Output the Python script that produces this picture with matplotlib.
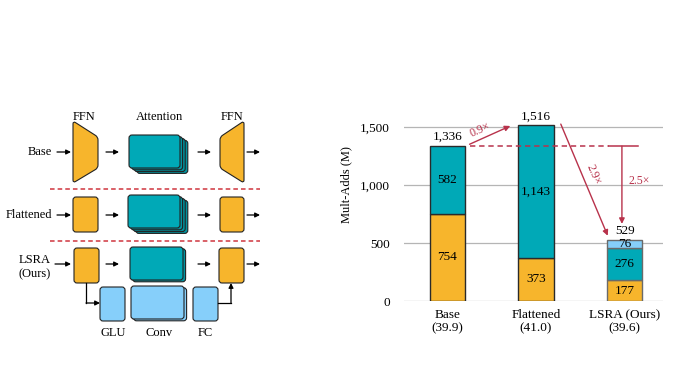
import matplotlib.pyplot as plt
import numpy as np
from matplotlib.patches import FancyBboxPatch, PathPatch
from matplotlib.path import Path

plt.rcParams['font.family'] = ['Liberation Serif', 'DejaVu Serif']

# chart data
models = ['Base\n(39.9)', 'Flattened\n(41.0)', 'LSRA (Ours)\n(39.6)']
ffn = [754, 373, 177]
attn = [582, 1143, 276]
branch = [0, 0, 76]
totals = [1336, 1516, 529]
yticks = [0, 500, 1000, 1500]

ORANGE = '#F7B52C'
TEAL = '#00A9B7'
TEAL_DARK = '#00939F'
LBLUE = '#86CFFA'
RED = '#B8324B'
DIV = '#D0353F'

fig = plt.figure(figsize=(6.73, 3.79), dpi=100)

# ---------- left: block diagram (pixel coordinates) ----------
dg = fig.add_axes([0, 0, 1, 1])
dg.set_xlim(0, 673)
dg.set_ylim(379, 0)
dg.axis('off')


def box(x0, y0, x1, y1, fc, r=3.0, z=2):
    dg.add_patch(FancyBboxPatch((x0, y0), x1 - x0, y1 - y0,
                                boxstyle=f'round,pad=0,rounding_size={r}',
                                fc=fc, ec='#222222', lw=0.8, zorder=z))


def stack(x0, y0, x1, y1, fc, n, dx=2.6, dy=1.8):
    for i in range(n, 0, -1):
        box(x0 + i * dx, y0 + i * dy, x1 + i * dx, y1 + i * dy,
            TEAL_DARK if fc == TEAL else fc, z=2)
    box(x0, y0, x1, y1, fc, z=3)


def arrow(x0, y0, x1, y1):
    dg.annotate('', xy=(x1, y1), xytext=(x0, y0),
                arrowprops=dict(arrowstyle='-|>', color='k', lw=0.9,
                                mutation_scale=7, shrinkA=0, shrinkB=0))


def round_poly(pts, r=3.0):
    pts = np.asarray(pts, float)
    n = len(pts)
    verts, codes = [], []
    for i in range(n):
        p = pts[i]
        a = pts[i - 1]
        b = pts[(i + 1) % n]
        pa = p + (a - p) / np.linalg.norm(a - p) * r
        pb = p + (b - p) / np.linalg.norm(b - p) * r
        verts += [pa, p, pb]
        codes += [Path.MOVETO if i == 0 else Path.LINETO, Path.CURVE3, Path.CURVE3]
    verts.append(verts[0])
    codes.append(Path.CLOSEPOLY)
    return Path(verts, codes)


def trap(xl, xr, wide_left):
    if wide_left:
        pts = [(xl, 121), (xr, 137), (xr, 168), (xl, 183)]
    else:
        pts = [(xl, 137), (xr, 121), (xr, 183), (xl, 168)]
    dg.add_patch(PathPatch(round_poly(pts), fc=ORANGE, ec='#222222', lw=0.8, zorder=2))


fs = 9
dg.text(84, 117, 'FFN', ha='center', va='center', fontsize=fs)
dg.text(159, 117, 'Attention', ha='center', va='center', fontsize=fs)
dg.text(232, 117, 'FFN', ha='center', va='center', fontsize=fs)

# Base row
yc = 152
dg.text(52, yc, 'Base', ha='right', va='center', fontsize=fs)
arrow(57, yc, 71, yc)
trap(73, 98, True)
arrow(106, yc, 119, yc)
stack(129, 135, 180, 168, TEAL, 3)
arrow(198, yc, 211, yc)
trap(220, 244, False)
arrow(247, yc, 260, yc)

dg.plot([50, 260], [189, 189], ls=(0, (3, 2)), color=DIV, lw=1.1)

# Flattened row
yc = 215
dg.text(52, yc, 'Flattened', ha='right', va='center', fontsize=fs)
arrow(57, yc, 71, yc)
box(73, 197, 98, 232, ORANGE)
arrow(106, yc, 119, yc)
stack(128, 195, 180, 228, TEAL, 3)
arrow(198, yc, 211, yc)
box(220, 197, 244, 232, ORANGE)
arrow(247, yc, 260, yc)

dg.plot([50, 260], [241, 241], ls=(0, (3, 2)), color=DIV, lw=1.1)

# LSRA row
yc = 264
dg.text(35, 267, 'LSRA\n(Ours)', ha='center', va='center', fontsize=fs, linespacing=1.25)
arrow(55, yc, 71, yc)
box(74, 248, 99, 283, ORANGE)
arrow(106, yc, 119, yc)
stack(130, 247, 183, 280, TEAL, 1)
arrow(198, yc, 211, yc)
box(219, 248, 244, 283, ORANGE)
arrow(247, yc, 260, yc)

box(100, 287, 125, 321, LBLUE)
stack(131, 286, 184, 319, LBLUE, 1)
box(193, 287, 218, 321, LBLUE)
dg.plot([86, 86], [283, 303], color='k', lw=0.9)
arrow(86, 303, 100, 303)
dg.plot([218, 231], [303, 303], color='k', lw=0.9)
arrow(231, 303, 231, 283)
dg.text(113, 333, 'GLU', ha='center', va='center', fontsize=fs)
dg.text(159, 333, 'Conv', ha='center', va='center', fontsize=fs)
dg.text(205, 333, 'FC', ha='center', va='center', fontsize=fs)

# ---------- right: stacked bars ----------
ax = fig.add_axes([0.6003, 0.2058, 0.385, 0.52])
x = np.arange(len(models))
w = 0.4
edges = ['#2a2a2a', '#2a2a2a', '#6a6a6a']
ax.bar(x, ffn, w, color=ORANGE, edgecolor=edges, lw=1, zorder=3)
ax.bar(x, attn, w, bottom=ffn, color=TEAL, edgecolor=edges, lw=1, zorder=3)
b2 = np.array(ffn) + np.array(attn)
ax.bar(x[2], branch[2], w, bottom=b2[2], color=LBLUE, edgecolor=edges[2], lw=1, zorder=3)

vf = 9.5
for i in range(3):
    ax.text(x[i], ffn[i] / 2, f'{ffn[i]:,}', ha='center', va='center', fontsize=vf, zorder=4)
    ax.text(x[i], ffn[i] + attn[i] / 2, f'{attn[i]:,}', ha='center', va='center', fontsize=vf, zorder=4)
    ax.text(x[i], totals[i] + 25, f'{totals[i]:,}', ha='center', va='bottom', fontsize=vf, zorder=4)
ax.text(x[2], b2[2] + branch[2] / 2, f'{branch[2]}', ha='center', va='center', fontsize=vf, zorder=4)

ax.set_xlim(-0.49, 2.435)
ax.set_ylim(0, 1700)
ax.set_yticks(yticks)
ax.set_yticklabels([f'{v:,}' for v in yticks])
ax.set_xticks(x)
ax.set_xticklabels(models, linespacing=1.1)
ax.tick_params(length=0, labelsize=9.5)
ax.tick_params(axis='x', pad=6)
ax.tick_params(axis='y', pad=10)
ax.grid(axis='y', color='#B5B5B5', lw=0.9, zorder=0)
for s in ax.spines.values():
    s.set_visible(False)
ax.set_ylabel('Mult-Adds (M)', fontsize=9)
ax.yaxis.set_label_coords(-0.2, 0.59)

# speed-up annotations
ap = dict(arrowstyle='-|>', color=RED, lw=1, mutation_scale=8, shrinkA=0, shrinkB=0)
ax.annotate('', xy=(0.71, 1510), xytext=(0.25, 1352), arrowprops=ap)
ax.text(0.37, 1475, '0.9×', color=RED, fontsize=8.5, rotation=24, ha='center', va='center')
ax.plot([0.25, 1.82], [totals[0], totals[0]], ls=(0, (3.5, 2.5)), color=RED, lw=1.1, zorder=4)
ax.plot([1.82, 2.15], [totals[0], totals[0]], color=RED, lw=1.1, zorder=4)
ax.annotate('', xy=(1.97, 665), xytext=(1.97, totals[0]), arrowprops=ap)
ax.text(2.04, 1034, '2.5×', color=RED, fontsize=8.5, ha='left', va='center')
ax.annotate('', xy=(1.81, 563), xytext=(1.28, 1526), arrowprops=ap)
ax.text(1.65, 1090, '2.9×', color=RED, fontsize=8.5, rotation=-67, ha='center', va='center')

fig.savefig('out.png', dpi=100)
